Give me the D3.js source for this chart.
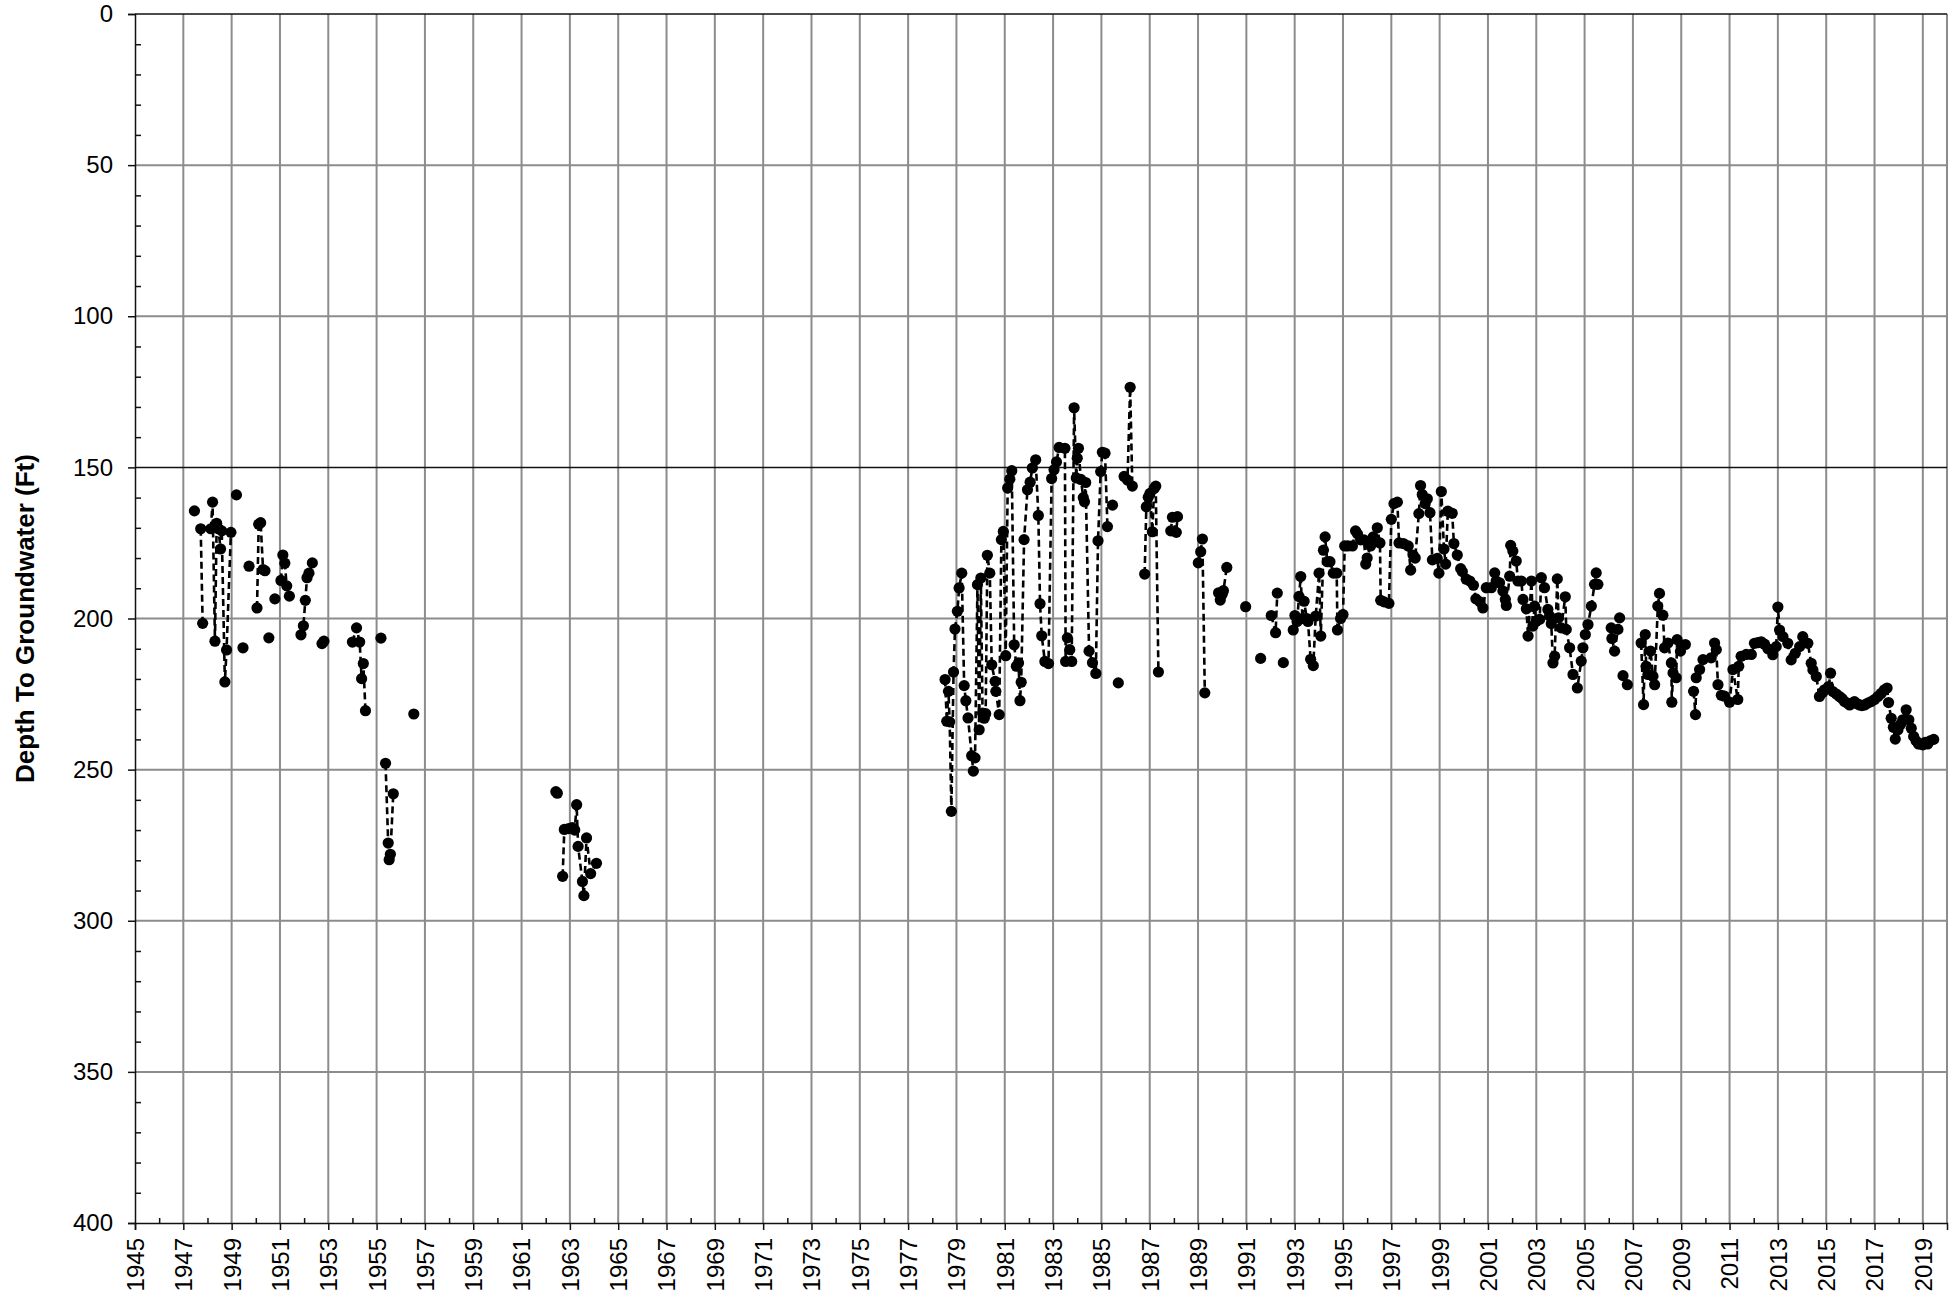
<!DOCTYPE html>
<html>
<head>
<meta charset="utf-8">
<script src="https://cdn.jsdelivr.net/npm/d3@7"></script>
<style>
  body { margin: 0; background: #fff; }
  svg text { font-family: "Liberation Sans", Arial, sans-serif; fill: #000; }
</style>
</head>
<body>
<svg id="chart" width="1955" height="1296"></svg>
<script>
// measurements, [year, depth ft]; null = no line to the next point
const obs1947 = [
  [1947.46,164.4], null,
  [1947.72,170.3],[1947.8,201.6], null,
  [1948.14,170.3],[1948.21,161.5],[1948.31,207.5],[1948.38,168.5],[1948.45,170.3],[1948.54,177],[1948.59,171],[1948.72,221],[1948.79,210.4],[1948.97,171.5], null,
  [1949.2,159.1], null,
  [1949.47,209.7], null,
  [1949.72,182.7], null,
  [1950.05,196.5],[1950.12,168.8],[1950.2,168.3],[1950.3,183.8],[1950.38,184.2], null,
  [1950.54,206.4], null,
  [1950.79,193.5], null,
  [1951.04,187.4],[1951.12,179],[1951.2,181.7],[1951.28,189.2],[1951.39,192.6], null,
  [1951.87,205.4],[1951.97,202.4],[1952.05,194],[1952.12,186.5],[1952.2,185],[1952.34,181.6], null,
  [1952.74,208.3],[1952.82,207.5], null,
  [1954.0,207.8],[1954.17,203.1],[1954.3,207.8],[1954.38,219.9],[1954.45,214.9],[1954.54,230.5], null,
  [1955.18,206.5], null,
  [1955.37,247.9],[1955.48,274.3],[1955.52,279.8],[1955.57,278],[1955.69,258], null,
  [1956.54,231.6], null
];

const obs1962 = [
  [1962.42,257.3],[1962.48,257.8], null,
  [1962.7,285.3],[1962.77,269.8],[1962.95,269.5],[1963.1,269.2],[1963.2,270],[1963.28,261.6],[1963.34,275.4],
  [1963.52,287],[1963.58,291.7],[1963.69,272.6],[1963.86,284.4],[1964.1,281], null
];

const obs1978 = [
  [1978.53,220.2],[1978.6,234],[1978.67,224.1],[1978.72,234.2],[1978.79,263.8],[1978.88,217.7],[1978.94,203.5],
  [1979.04,197.6],[1979.11,189.9],[1979.22,185],[1979.32,222.2],[1979.39,227.2],[1979.48,232.9],[1979.63,245.4],
  [1979.7,250.5],[1979.77,246.1],[1979.87,188.8],[1979.94,236.8],[1980.01,186.6],[1980.08,231.3],[1980.15,233],
  [1980.21,231.5],[1980.28,179.1],[1980.38,185],[1980.46,215.3],[1980.6,220.8],[1980.63,224.1],[1980.77,231.8],
  [1980.86,173.9],[1980.94,171.2],[1981.04,212.3],[1981.12,156.8],[1981.21,153.9],[1981.29,151.1],[1981.39,208.7],
  [1981.48,215.8],[1981.57,214.7],[1981.63,227.2],[1981.68,221.1],[1981.8,173.9],[1981.94,157.4],[1982.05,154.9],
  [1982.14,150.2],[1982.28,147.5],[1982.39,165.9],[1982.46,195.1],[1982.53,205.7],[1982.66,214.2],[1982.81,214.9],
  [1982.94,153.7],[1983.04,150.8],[1983.14,148.2],[1983.25,143.4],[1983.49,143.7],[1983.52,214.2],[1983.59,206.4],
  [1983.69,210.3],[1983.77,214.2],[1983.87,130.3],[1983.96,153.5],[1984.0,147],[1984.05,143.7],[1984.15,154],
  [1984.25,160],[1984.3,161.4],[1984.35,155],[1984.49,210.8],[1984.63,214.6],[1984.77,218.2],[1984.86,174.3],
  [1984.97,151.4],[1985.04,145],[1985.15,145.3],[1985.25,169.6], null,
  [1985.46,162.5], null,
  [1985.7,221.3], null,
  [1985.94,153],[1986.08,154.2],[1986.19,123.5],[1986.28,156.2], null,
  [1986.79,185.3],[1986.86,163],[1986.94,159.9],[1987.01,158.6],[1987.11,171.3],[1987.18,157],[1987.25,156.2],[1987.36,217.7], null,
  [1987.87,171],[1987.94,166.5],[1988.1,171.5],[1988.15,166.3], null,
  [1989.01,181.6],[1989.11,177.9],[1989.18,173.7],[1989.28,224.6], null,
  [1989.85,191.5],[1989.92,193.9],[1990.0,192],[1990.05,190.8],[1990.19,183.1], null,
  [1990.97,196.1], null,
  [1991.59,213.2], null,
  [1992.03,199],[1992.21,204.7],[1992.28,191.6], null,
  [1992.53,214.6], null
];

const obs1993 = [
  [1992.94,203.8],[1993.01,199],[1993.1,201],[1993.18,192.7],[1993.25,186.1],[1993.32,200],[1993.39,194.3],[1993.5,200],
  [1993.55,201],[1993.66,213.5],[1993.77,215.6],[1993.87,199.2],[1994.01,185],[1994.08,205.8],[1994.19,177.4],[1994.26,173],
  [1994.35,181.2],[1994.46,181.2],[1994.6,185],[1994.74,185],[1994.77,203.8],[1994.9,200],[1995.0,198.7],[1995.07,176],
  [1995.2,176],[1995.39,176],[1995.52,171],[1995.6,172],[1995.73,174],[1995.87,174],[1995.94,182],[1996.0,180],
  [1996.14,176],[1996.25,173],[1996.42,170],[1996.53,175],[1996.56,194],[1996.7,194.5],[1996.9,195],[1997.0,167.2],
  [1997.11,162],[1997.25,161.5],[1997.32,175],[1997.5,175.2],[1997.7,176],[1997.8,184],[1997.9,179],[1997.99,180],
  [1998.14,165.3],[1998.21,156],[1998.28,159],[1998.4,162],[1998.49,160.4],[1998.6,165],[1998.7,180.6],[1998.9,180.1],
  [1998.97,185],[1999.07,158],[1999.18,177],[1999.25,182],[1999.34,164.5],[1999.52,165.2],[1999.59,175.2],[1999.73,179],
  [1999.87,183.5],[1999.94,184.5],[2000.1,187],[2000.25,187.6],[2000.4,189],[2000.5,193.5],[2000.67,194.5],[2000.79,196.5]
];

const obs2001 = [
  [2000.93,189.8],[2001.14,189.8],[2001.28,184.9],[2001.34,187.6],[2001.48,188.2],[2001.62,190.9],[2001.72,193.7],
  [2001.76,195.7],[2001.9,186],[2001.94,175.8],[2002.03,177.7],[2002.17,181],[2002.24,187.6],[2002.38,187.6],
  [2002.45,193.7],[2002.59,196.8],[2002.66,205.8],[2002.8,187.6],[2002.86,202.5],[2002.93,195.9],[2003.0,200.9],
  [2003.14,200.3],[2003.21,186.5],[2003.34,189.8],[2003.48,197],[2003.55,199.2],[2003.62,201.7],[2003.69,214.7],
  [2003.76,212.5],[2003.87,186.9],[2003.92,199.8],[2004.03,203.1],[2004.2,192.8],[2004.24,203.6],[2004.38,209.7],
  [2004.52,218.5],[2004.7,223],[2004.86,214.1],[2004.93,209.7],[2005.03,205.3],[2005.14,202],[2005.28,195.9],
  [2005.41,188.7],[2005.48,184.9],[2005.55,188.7], null,
  [2006.1,203.1],[2006.13,206.6],[2006.24,210.8],[2006.38,203.6],[2006.45,199.8], null,
  [2006.59,218.9],[2006.77,221.9], null,
  [2007.34,208.1],[2007.44,228.5],[2007.51,205.3],[2007.55,215.8],[2007.62,218.5],[2007.73,210.8],[2007.83,219.1],
  [2007.9,221.9],[2008.03,195.9],[2008.1,191.7],[2008.24,198.9],[2008.31,209.7],[2008.45,208.1],[2008.59,214.7],
  [2008.61,227.7],[2008.66,218],[2008.79,219.6],[2008.83,207],[2008.97,210.8],[2009.17,208.6], null,
  [2009.51,224.1],[2009.59,231.8],[2009.62,219.6],[2009.76,216.9],[2009.9,213.6],[2010.24,213],[2010.38,208.1],
  [2010.45,210.3],[2010.52,221.9],[2010.66,225.4],[2010.79,225.7],[2011.0,227.7],[2011.14,216.9],[2011.34,226.8],
  [2011.38,215.8],[2011.48,212.5],[2011.69,211.9],[2011.9,211.9]
];

const obs2012 = [
  [2012.03,208.2],[2012.17,208],[2012.31,207.7],[2012.45,208.5],[2012.59,210],[2012.79,212],[2012.93,209.3],[2013.0,196.2],
  [2013.07,203.8],[2013.21,206],[2013.41,208.2],[2013.55,213.7],[2013.72,211.5],[2013.9,209.3],[2014.03,206],
  [2014.24,208.2],[2014.38,214.8],[2014.45,217],[2014.59,219.2],[2014.72,225.8],[2014.85,224.5],[2014.93,223.6],
  [2015.1,222.5],[2015.18,218.1],[2015.28,224.2],[2015.42,225],[2015.55,225.8],[2015.66,226.5],[2015.76,227.5],
  [2015.87,228],[2015.97,228.6],[2016.07,228],[2016.17,227.5],[2016.28,228.2],[2016.38,228.6],[2016.48,228.8],
  [2016.59,228.6],[2016.72,228],[2016.86,227.5],[2017.0,226.8],[2017.14,225.8],[2017.27,224.8],[2017.41,223.6],
  [2017.52,223],[2017.58,227.8],[2017.69,233],[2017.78,236],[2017.86,239.9],[2017.97,236.8],[2018.08,235],
  [2018.17,233.5],[2018.31,230.2],[2018.42,233.5],[2018.52,236.3],[2018.62,239],[2018.72,240.5],[2018.82,241.5],
  [2018.9,241.5],[2019.0,241.8],[2019.1,241],[2019.2,241.5],[2019.3,240.5],[2019.45,240]
];

const depthTicks = d3.range(0, 401, 50);
const depthMinor = d3.range(0, 401, 10).filter(v => v % 50 !== 0);
const yearTicks = d3.range(1945, 2020, 2);
const yearMinor = d3.range(1946, 2021, 2);

const svg = d3.select("#chart");
const x = d3.scaleLinear().domain([1945, 2020]).range([135, 1947]);
const y = d3.scaleLinear().domain([0, 400]).range([14, 1223]);

const data = [].concat(obs1947, obs1962, obs1978, obs1993, obs2001, obs2012);

// grid
const grid = svg.append("g");
grid.selectAll("line.v").data(yearTicks.slice(1).concat([2020])).join("line")
    .attr("x1", d => x(d)).attr("x2", d => x(d))
    .attr("y1", y(0)).attr("y2", y(400))
    .attr("stroke", "#8c8c8c").attr("stroke-width", 2);
grid.selectAll("line.h").data(depthTicks.filter(d => d > 0 && d < 400)).join("line")
    .attr("x1", x(1945)).attr("x2", x(2020))
    .attr("y1", d => y(d)).attr("y2", d => y(d))
    .attr("stroke", d => d === 150 ? "#111" : "#8c8c8c")
    .attr("stroke-width", d => d === 150 ? 1.5 : 2);
svg.append("line")
    .attr("x1", x(1945)).attr("x2", x(2020)).attr("y1", y(0)).attr("y2", y(0))
    .attr("stroke", "#111").attr("stroke-width", 1.5);

// axes
const yAxis = svg.append("g").attr("transform", `translate(${x(1945)},0)`)
    .call(d3.axisLeft(y).tickValues(depthTicks).tickSize(7).tickPadding(15));
svg.append("g").attr("transform", `translate(${x(1945)},0)`)
    .call(d3.axisRight(y).tickValues(depthMinor).tickSize(6).tickFormat(""))
    .select(".domain").remove();
const xAxis = svg.append("g").attr("transform", `translate(0,${y(400)})`)
    .call(d3.axisBottom(x).tickValues(yearTicks).tickSize(7).tickFormat(d3.format("d")));
svg.append("g").attr("transform", `translate(0,${y(400)})`)
    .call(d3.axisTop(x).tickValues(yearMinor.filter(d => d < 2020)).tickSize(5).tickFormat(""))
    .select(".domain").remove();

svg.selectAll(".domain").attr("stroke", "#111").attr("stroke-width", 1.5);
svg.selectAll(".tick line").attr("stroke", "#111").attr("stroke-width", 1.5);
yAxis.selectAll("text").style("font-size", "24px");
xAxis.selectAll("text")
    .style("font-size", "24px")
    .style("text-anchor", "end")
    .attr("transform", "rotate(-90)")
    .attr("x", -15).attr("y", 0).attr("dy", "0.35em");

svg.append("text")
    .attr("transform", `translate(25,${(y(0) + y(400)) / 2}) rotate(-90)`)
    .attr("text-anchor", "middle").attr("dominant-baseline", "central")
    .style("font-size", "26px").style("font-weight", "bold")
    .text("Depth To Groundwater (Ft)");

// series
const line = d3.line().defined(d => d).x(d => x(d[0])).y(d => y(d[1]));
svg.append("path").datum(data)
    .attr("d", line)
    .attr("fill", "none").attr("stroke", "#000")
    .attr("stroke-width", 2.6).attr("stroke-dasharray", "7,4");
svg.append("g").selectAll("circle").data(data.filter(d => d)).join("circle")
    .attr("cx", d => x(d[0])).attr("cy", d => y(d[1]))
    .attr("r", 5.6).attr("fill", "#000");
</script>
</body>
</html>
